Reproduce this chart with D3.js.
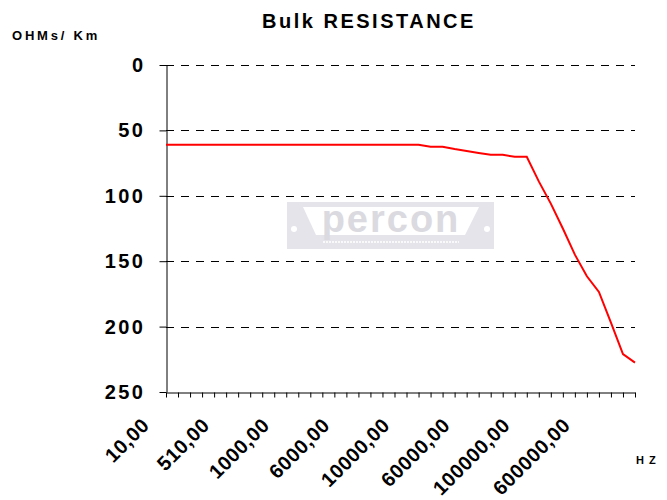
<!DOCTYPE html>
<html>
<head>
<meta charset="utf-8">
<title>Bulk RESISTANCE</title>
<script src="https://cdnjs.cloudflare.com/ajax/libs/d3/7.8.5/d3.min.js"></script>
<style>
  body { margin: 0; background: #fff; }
  svg text { font-family: Arial, "Liberation Sans", sans-serif; font-weight: bold; fill: #000; }
</style>
</head>
<body>
<div id="chart"></div>
<script>
// frequency labels (one every 5 categories) and bulk resistance in ohms/km
var tickLabels = ["10,00", "510,00", "1000,00", "6000,00", "10000,00", "60000,00", "100000,00", "600000,00"];
var labelEvery = 5;
var resistance = [61, 61, 61, 61, 61, 61, 61, 61, 61, 61,
                  61, 61, 61, 61, 61, 61, 61, 61, 61, 61,
                  61, 61, 62.5, 62.5, 64.3, 65.8, 67.3, 68.6, 68.6, 70.2,
                  70.2, 89, 106, 125, 145, 161.5, 173.5, 197, 221, 227.5];
var yTicks = [0, 50, 100, 150, 200, 250];
var gridTicks = [0, 50, 100, 150, 200];

var w = 667, h = 500;
var plotLeft = 166, plotRight = 635, plotTop = 65, plotBottom = 392;

var svg = d3.select("#chart").append("svg")
    .attr("width", w)
    .attr("height", h);

var x = d3.scalePoint()
    .domain(d3.range(resistance.length))
    .range([plotLeft, plotRight]);

var y = d3.scaleLinear()
    .domain([0, 250])
    .range([plotTop, plotBottom]);

// watermark logo
var logo = svg.append("g").attr("transform", "translate(287,202)");
logo.append("rect").attr("width", 207).attr("height", 47).attr("fill", "#e4e4ea");
logo.append("polygon")
    .attr("points", "16,5 192,5 178,33 29,33")
    .attr("fill", "#fff");
logo.append("text")
    .attr("x", 104).attr("y", 30)
    .attr("text-anchor", "middle")
    .style("font-size", "38px")
    .style("letter-spacing", "2px")
    .style("fill", "#dadae0")
    .text("percon");
logo.append("line")
    .attr("x1", 36).attr("x2", 172).attr("y1", 40).attr("y2", 40)
    .attr("stroke", "#fff").attr("stroke-width", 1.5)
    .attr("stroke-dasharray", "2,1");
logo.selectAll("circle.dot").data([7, 200]).enter().append("circle")
    .attr("cx", d => d).attr("cy", 27).attr("r", 3).attr("fill", "#fff");

// dashed gridlines
svg.append("g").selectAll("line")
    .data(gridTicks)
    .enter().append("line")
    .attr("x1", plotLeft).attr("x2", plotRight)
    .attr("y1", d => Math.round(y(d)) + 0.5)
    .attr("y2", d => Math.round(y(d)) + 0.5)
    .attr("stroke", "#000")
    .attr("stroke-dasharray", "8,7");

// y axis
var yAxis = svg.append("g")
    .attr("transform", "translate(" + (plotLeft + 0.5) + ",0)")
    .call(d3.axisLeft(y).tickValues(yTicks).tickSize(7).tickPadding(14).tickSizeOuter(0));
yAxis.selectAll("text")
    .style("font-size", "20px")
    .style("letter-spacing", "2.5px")
    .attr("font-family", null);

// x axis
var xAxis = svg.append("g")
    .attr("transform", "translate(0," + (plotBottom + 0.5) + ")")
    .call(d3.axisBottom(x).tickSize(5).tickSizeOuter(0)
        .tickFormat(i => i % labelEvery === 0 ? tickLabels[i / labelEvery] : ""));
xAxis.selectAll("text")
    .attr("x", 0).attr("y", 0).attr("dy", null)
    .attr("text-anchor", "end")
    .attr("transform", "translate(-16,34) rotate(-45)")
    .style("font-size", "20px")
    .style("letter-spacing", "0.5px");

svg.selectAll(".domain, .tick line").attr("stroke", "#000");

// resistance curve
var line = d3.line()
    .x((d, i) => x(i))
    .y(d => y(d));

svg.append("path")
    .datum(resistance)
    .attr("d", line)
    .attr("fill", "none")
    .attr("stroke", "#ff0000")
    .attr("stroke-width", 2);

// titles
svg.append("text")
    .attr("x", 369).attr("y", 28)
    .attr("text-anchor", "middle")
    .style("font-size", "20px")
    .style("letter-spacing", "2.5px")
    .text("Bulk RESISTANCE");

svg.append("text")
    .attr("x", 12).attr("y", 40)
    .style("font-size", "13px")
    .style("letter-spacing", "2.8px")
    .text("OHMs/ Km");

svg.append("text")
    .attr("x", 636).attr("y", 464)
    .style("font-size", "11px")
    .style("letter-spacing", "5px")
    .text("HZ");
</script>
</body>
</html>
